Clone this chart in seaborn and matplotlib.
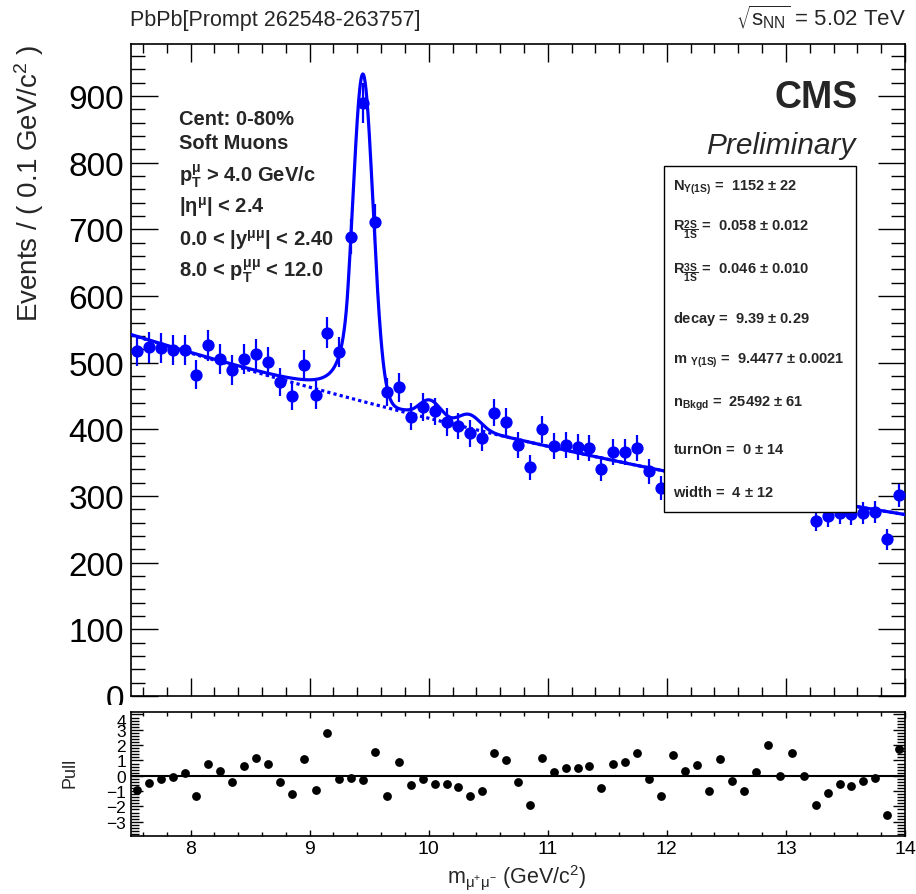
import numpy as np
import pandas as pd
import matplotlib
matplotlib.use("Agg")
import matplotlib.pyplot as plt
import seaborn as sns
from matplotlib.ticker import MultipleLocator
from matplotlib.patches import Rectangle
from matplotlib.transforms import Bbox, TransformedBbox
from math import erf

# ---------------- data ----------------
mass_centers = np.round(np.arange(7.55, 14.0, 0.1), 2)   # 65 bins of 0.1 GeV/c^2
events = [517, 523, 522, 519, 519, 482, 526, 505, 489, 505,
          513, 501, 471, 450, 497, 451, 545, 516, 689, 890,
          711, 456, 463, 419, 434, 427, 411, 405, 394, 387,
          425, 411, 376, 343, 400, 375, 376, 374, 372, 341,
          366, 366, 372, 337, 312, 357, 335, 339, 305, 340,
          311, 296, 314, 342, 304, 327, 297, 263, 270, 274,
          273, 275, 276, 235, 301]
pulls = [-0.96, -0.48, -0.24, -0.09, 0.20, -1.33, 0.78, 0.28, -0.39, 0.63,
         1.17, 0.78, -0.39, -1.20, 1.09, -0.96, 2.76, -0.24, -0.15, -0.30,
         1.57, -1.35, 0.93, -0.63, -0.24, -0.57, -0.57, -0.72, -1.35, -1.02,
         1.50, 1.00, -0.41, -1.89, 1.17, 0.24, 0.52, 0.52, 0.61, -0.80,
         0.78, 0.93, 1.50, -0.20, -1.35, 1.33, 0.30, 0.67, -1.02, 1.09,
         -0.33, -1.02, 0.24, 1.98, 0.00, 1.50, 0.00, -1.89, -1.11, -0.57,
         -0.67, -0.37, -0.15, -2.59, 1.72]

# fit parameters (from the box) and fixed line-shape values
N_1S, R_2S, R_3S = 1152, 0.058, 0.046
decay, m_1S, n_bkgd = 9.39, 9.4477, 25492
turn_on, turn_width = 0.0, 4.0
sigma_1S, cb_alpha, cb_n = 0.085, 1.5, 2.0
pdg_masses = [9.4603, 10.0233, 10.3552]

box_names = [r"$N_{\Upsilon(1S)}$", r"$R_{\dfrac{2S}{1S}}$", r"$R_{\dfrac{3S}{1S}}$", "decay",
             r"m $_{\Upsilon(1S)}$", r"$n_{Bkgd}$", "turnOn", "width"]
box_values = ["1152", "0.058", "0.046", "9.39", "9.4477", "25492", "0", "4"]
box_errors = ["22", "0.012", "0.010", "0.29", "0.0021", "61", "14", "12"]

info_lines = ["Cent: 0-80%", "Soft Muons", r"$p_{T}^{\mu}$ > 4.0 GeV/c", r"$|\eta^{\mu}|$ < 2.4",
              r"0.0 < $|y^{\mu\mu}|$ < 2.40", r"8.0 < $p_{T}^{\mu\mu}$ < 12.0"]

# ---------------- fit model ----------------
x_lo, x_hi, bin_w = 7.5, 14.0, 0.1
grid = np.linspace(x_lo, x_hi, 3001)

def bkg_shape(x):
    e = np.array([erf((v - turn_on) / turn_width) for v in np.atleast_1d(x)])
    return np.exp(-x / decay) * (1 + e) / 2

def cb_shape(x, m, s):
    t = (x - m) / s
    A = (cb_n / cb_alpha) ** cb_n * np.exp(-cb_alpha ** 2 / 2)
    B = cb_n / cb_alpha - cb_alpha
    out = np.where(t > -cb_alpha, np.exp(-0.5 * t ** 2),
                   A * np.abs(B - np.minimum(t, -cb_alpha)) ** (-cb_n))
    return out

fine = np.linspace(x_lo - 3, x_hi + 3, 40001)
dx = fine[1] - fine[0]
bnorm = np.trapezoid(bkg_shape(grid), grid)
bkg = n_bkgd * bin_w * bkg_shape(grid) / bnorm
total = bkg.copy()
for frac, mpdg in zip([1.0, R_2S, R_3S], pdg_masses):
    mm = m_1S * mpdg / pdg_masses[0]
    ss = sigma_1S * mpdg / pdg_masses[0]
    norm = np.sum(cb_shape(fine, mm, ss)) * dx
    total += N_1S * frac * bin_w * cb_shape(grid, mm, ss) / norm

df = pd.DataFrame({"mass": mass_centers, "events": events, "pull": pulls})
curve = pd.DataFrame({"mass": grid, "total": total, "bkg": bkg})

# ---------------- figure ----------------
sns.set_theme(style="ticks")
plt.rcParams["font.family"] = ["Liberation Sans", "DejaVu Sans"]
plt.rcParams["mathtext.default"] = "regular"
plt.rcParams["axes.linewidth"] = 1.2

W, H = 916, 895
fig = plt.figure(figsize=(W / 100, H / 100), dpi=100)
fx = lambda px: px / W
fy = lambda py: 1 - py / H

ax = fig.add_axes([fx(131), fy(697), fx(905) - fx(131), fy(45) - fy(697)])
axp = fig.add_axes([fx(131), fy(837), fx(905) - fx(131), fy(713) - fy(837)])

blue = "#0000ff"
sns.lineplot(data=curve, x="mass", y="bkg", ax=ax, color=blue, lw=2.3,
             linestyle=(0, (1.0, 1.0)), zorder=2, sort=False, estimator=None)
sns.lineplot(data=curve, x="mass", y="total", ax=ax, color=blue, lw=2.3,
             zorder=3, sort=False, estimator=None)
err = np.sqrt(df["events"].to_numpy())
ax.vlines(df["mass"], df["events"] - err, df["events"] + err, color=blue, lw=1.6, zorder=4)
sns.scatterplot(data=df, x="mass", y="events", ax=ax, color=blue, s=78,
                edgecolor=blue, linewidth=0, zorder=5, legend=False)

ax.set_xlim(x_lo, x_hi)
ax.set_ylim(0, 978)
ax.set_xlabel("")
ax.set_ylabel("")
ax.xaxis.set_major_locator(MultipleLocator(1))
ax.xaxis.set_minor_locator(MultipleLocator(0.2))
ax.yaxis.set_major_locator(MultipleLocator(100))
ax.yaxis.set_minor_locator(MultipleLocator(20))
ax.tick_params(which="both", direction="in", top=True, right=True, labelbottom=False,
               colors="black", width=1.0)
ax.tick_params(axis="x", which="major", length=13)
ax.tick_params(axis="x", which="minor", length=6.5)
ax.tick_params(axis="y", which="major", length=19.5, labelsize=24, pad=5)
ax.tick_params(axis="y", which="minor", length=10)
for s in ax.spines.values():
    s.set_color("black")

# pull panel
axp.axhline(0, color="black", lw=1.5, zorder=2)
sns.scatterplot(data=df, x="mass", y="pull", ax=axp, color="black", s=40,
                edgecolor="black", linewidth=0, zorder=5, legend=False)
axp.set_xlim(x_lo, x_hi)
axp.set_ylim(-3.93, 4.16)
axp.set_xlabel("")
axp.set_ylabel("")
axp.xaxis.set_major_locator(MultipleLocator(1))
axp.xaxis.set_minor_locator(MultipleLocator(0.2))
axp.yaxis.set_major_locator(MultipleLocator(1))
axp.yaxis.set_minor_locator(MultipleLocator(0.2))
axp.tick_params(which="both", direction="in", top=True, right=True, colors="black", width=1.0)
axp.tick_params(axis="x", which="major", length=4.5, labelsize=14, pad=3)
axp.tick_params(axis="x", which="minor", length=3)
axp.tick_params(axis="y", which="major", length=8.5, labelsize=12.5, pad=3.5)
axp.tick_params(axis="y", which="minor", length=5.5)
for s in axp.spines.values():
    s.set_color("black")

fig.canvas.draw()
# the "0" label of the upper panel is cut by the pull pad, as in the reference
clip = TransformedBbox(Bbox([[0, fy(706)], [fx(131), 1]]), fig.transFigure)
for t in ax.yaxis.get_major_ticks():
    if t.label1.get_text() == "0":
        t.label1.set_clip_box(clip)
        t.label1.set_clip_on(True)
# the top pull label sits just below the frame edge (as ROOT draws it)
for t in axp.yaxis.get_major_ticks():
    if t.label1.get_text() == "4":
        t.label1.set_verticalalignment("top")

# axis titles
fig.text(fx(29), fy(45), r"Events / ( 0.1 GeV/c$^{2}$ )", rotation=90, ha="center", va="top",
         fontsize=20)
fig.text(fx(70), fy(773), "Pull", rotation=90, ha="center", va="center", fontsize=13)
fig.text(fx(517), fy(878), r"$m_{\mu^{+}\mu^{-}}$ (GeV/c$^{2}$)", ha="center", va="center",
         fontsize=15.5)

# header
fig.text(fx(130), fy(26), "PbPb[Prompt 262548-263757]", ha="left", va="baseline",
         fontsize=15.5)
fig.text(fx(906), fy(26), r"$\sqrt{s_{NN}}$ = 5.02 TeV", ha="right", va="baseline",
         fontsize=16)

# CMS labels
ax.text(fx(858), fy(108), "CMS", transform=fig.transFigure, ha="right", va="baseline",
        fontsize=27, fontweight="bold")
ax.text(fx(856), fy(154), "Preliminary", transform=fig.transFigure, ha="right", va="baseline",
        fontsize=21.5, fontstyle="italic")

# left info block
info_base = [125, 149.3, 181.7, 212.7, 246, 277.7]
for txt, yb in zip(info_lines, info_base):
    ax.text(fx(179), fy(yb), txt, transform=fig.transFigure, ha="left", va="baseline",
            fontsize=14.5, fontweight="bold", zorder=12)

# parameter box
ax.add_patch(Rectangle((fx(664), fy(513)), fx(856) - fx(664), fy(167) - fy(513),
                       transform=fig.transFigure, facecolor="white", edgecolor="black",
                       lw=1.0, zorder=10, clip_on=False))
box_base = [191, 231, 274.3, 323.3, 364, 406.7, 454.3, 497.3]
for name, val, e, yb in zip(box_names, box_values, box_errors, box_base):
    ax.text(fx(673), fy(yb), f"{name} =  {val} $\\pm$ {e}", transform=fig.transFigure,
            ha="left", va="baseline", fontsize=10.5, fontweight="bold", zorder=11)

fig.savefig("out.png", dpi=100, facecolor="white")
